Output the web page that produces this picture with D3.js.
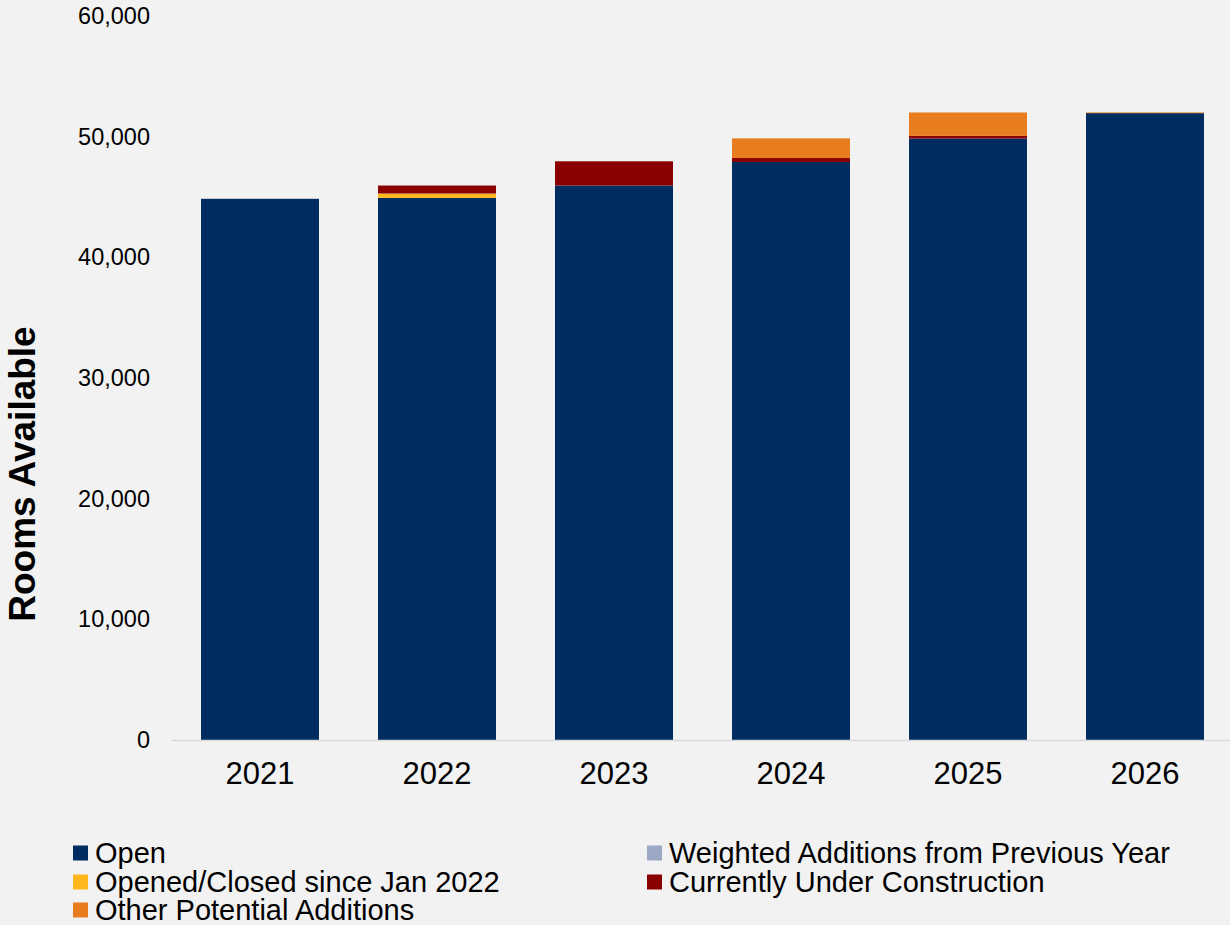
<!DOCTYPE html>
<html><head><meta charset="utf-8">
<script src="https://cdn.jsdelivr.net/npm/d3@7"></script>
<style>html,body{margin:0;padding:0;background:#f2f2f2;}svg{display:block;font-family:"Liberation Sans",Arial,sans-serif;}</style>
</head><body>
<svg id="c" width="1230" height="925"></svg>
<script>
const years = ["2021","2022","2023","2024","2025","2026"];
const openVals = [44850, 44930, 45950, 47900, 49850, 51950];
const weightedVals = [0, 0, 0, 0, 0, 0];
const openedClosedVals = [0, 360, 0, 0, 0, 0];
const underConstructionVals = [0, 660, 2010, 330, 215, 0];
const otherPotentialVals = [0, 0, 0, 1630, 1940, 60];
const yTicks = [0, 10000, 20000, 30000, 40000, 50000, 60000];
const seriesNames = ["Open","Weighted Additions from Previous Year","Opened/Closed since Jan 2022","Currently Under Construction","Other Potential Additions"];
const seriesColors = ["#002d5f","#9ba9c7","#ffb81c","#8b0000","#e87d20"];

const svg = d3.select("#c");
const rows = years.map((y,i)=>({year:y, "Open":openVals[i], "Weighted Additions from Previous Year":weightedVals[i], "Opened/Closed since Jan 2022":openedClosedVals[i], "Currently Under Construction":underConstructionVals[i], "Other Potential Additions":otherPotentialVals[i]}));
const stack = d3.stack().keys(seriesNames)(rows);

const x = d3.scaleBand().domain(years).range([171.5,1233.5]).paddingInner(1/3).paddingOuter(1/6);
const y = d3.scaleLinear().domain([0,60000]).range([740,16]);

const colorOf = d3.scaleOrdinal().domain(seriesNames).range(seriesColors);

svg.append("g").selectAll("g").data(stack).join("g")
  .attr("fill", d=>colorOf(d.key))
  .selectAll("rect").data(d=>d).join("rect")
  .attr("x", d=>x(d.data.year)).attr("width", x.bandwidth())
  .attr("y", d=>y(d[1])).attr("height", d=>Math.max(0,y(d[0])-y(d[1])));

const xAxis = d3.axisBottom(x).tickSize(0).tickPadding(22);
const gx = svg.append("g").attr("transform","translate(0,740)").call(xAxis);
gx.select(".domain").attr("stroke","#d9d9d9").attr("stroke-width",1.5);
gx.selectAll("text").attr("font-size",31).attr("fill","#000").attr("font-family","Liberation Sans, Arial, sans-serif");

const yAxis = d3.axisLeft(y).tickValues(yTicks).tickSize(0).tickPadding(0).tickFormat(d3.format(","));
const gy = svg.append("g").attr("transform","translate(150,0)").call(yAxis);
gy.select(".domain").remove();
gy.selectAll("text").attr("font-size",23.5).attr("fill","#000").attr("font-family","Liberation Sans, Arial, sans-serif");

svg.append("text").attr("transform","translate(35,474) rotate(-90)").attr("text-anchor","middle")
  .attr("font-size",37).attr("font-weight","bold").attr("fill","#000").text("Rooms Available");

const legendPos = [[73,853],[647,853],[73,882],[647,882],[73,910]];
const lg = svg.append("g");
seriesNames.forEach((name,i)=>{
  const [lx,ly] = legendPos[i];
  lg.append("rect").attr("x",lx).attr("y",ly-7.5).attr("width",15).attr("height",15).attr("fill",seriesColors[i]);
  lg.append("text").attr("x",lx+22).attr("y",ly).attr("dy","0.35em").attr("font-size",29).attr("fill","#000").text(name);
});
</script>
</body></html>
